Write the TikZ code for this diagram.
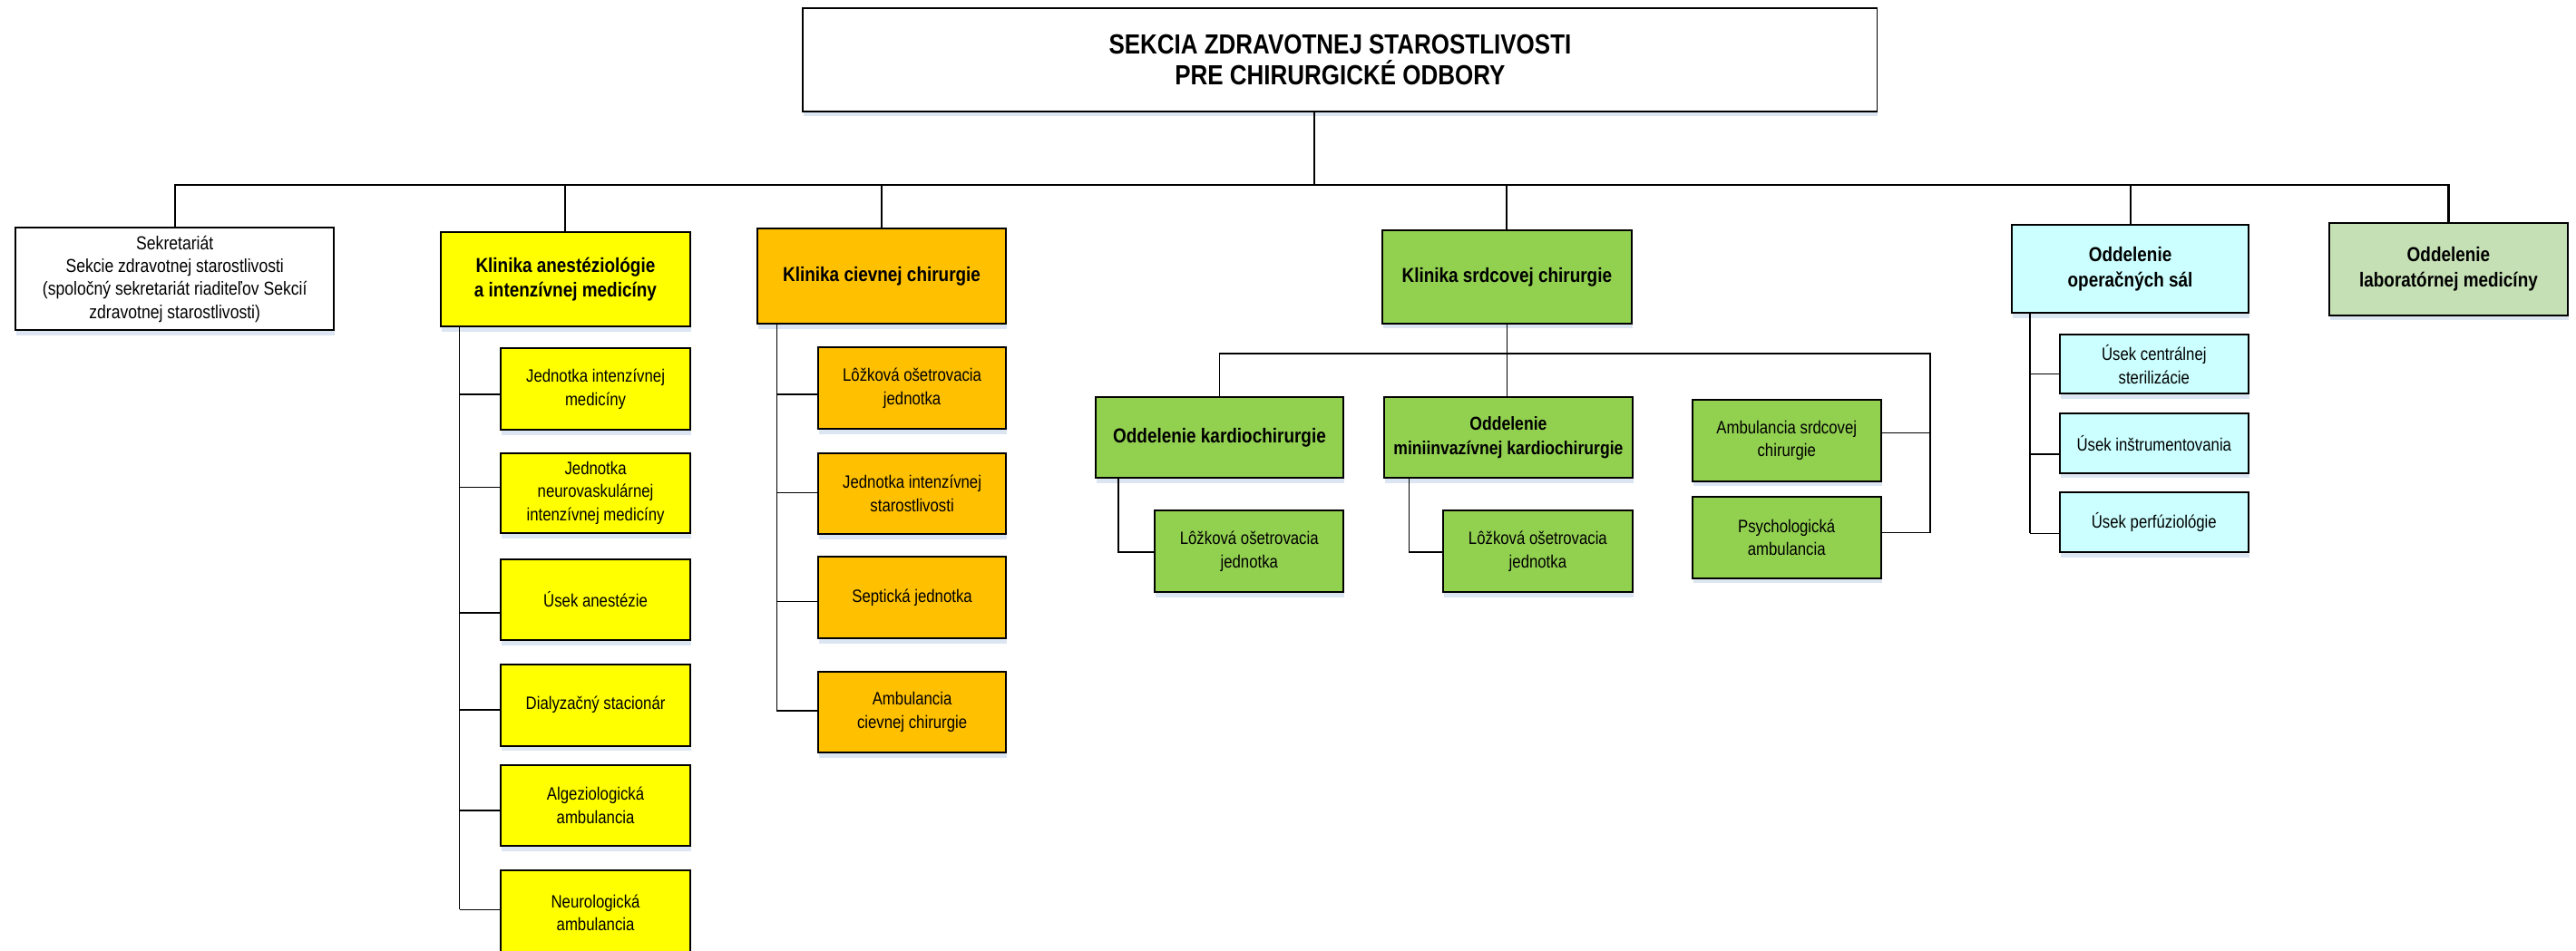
\documentclass[tikz,border=0pt]{standalone}
\usepackage{fontspec}
\setmainfont{Liberation Sans}[FakeStretch=0.85]
\usetikzlibrary{shadows}

\definecolor{cyel}{HTML}{FFFF00}
\definecolor{corg}{HTML}{FFC000}
\definecolor{cgrn}{HTML}{92D050}
\definecolor{ccyn}{HTML}{CCFFFF}
\definecolor{clab}{HTML}{C5E0B4}
\definecolor{cshd}{HTML}{DCE6F2}

\newcommand\orgunit[7]{%
  \pgfmathsetmacro\myboxw{(#4-#2)*0.02}%
  \pgfmathsetmacro\myboxh{(#5-#3)*0.02}%
  \node[#6, minimum width=\myboxw cm, minimum height=\myboxh cm] (#1) at ({(#2+#4)/2},{(#3+#5)/2}) {#7};%
}

\tikzset{
  orgbox/.style={draw=black, line width=0.6pt, inner sep=0pt, align=center,
    general shadow={fill=cshd, shadow yshift=-1.8pt, shadow xshift=0.3pt}},
  titlebox/.style={orgbox, fill=white, font=\fontsize{9.6}{10.8}\selectfont\bfseries},
  headbox/.style={orgbox, font=\fontsize{7}{8.6}\selectfont\bfseries},
  subbox/.style={orgbox, font=\fontsize{6.2}{8.1}\selectfont},
  sekbox/.style={orgbox, fill=white, font=\fontsize{6.5}{8}\selectfont},
  busline/.style={draw=black, line width=0.65pt},
  conline/.style={draw=black, line width=0.5pt},
}

\begin{document}
\begin{tikzpicture}[x=0.02cm, y=-0.02cm]
\useasboundingbox[fill=white] (0,0) rectangle (1568,579);

% top
\orgunit{top}{488.8}{5.2}{1142.6}{67.7}{titlebox}{SEKCIA ZDRAVOTNEJ STAROSTLIVOSTI\\PRE CHIRURGICKÉ ODBORY}

% level 1
\orgunit{sek}{9.4}{138.6}{203.4}{201.2}{sekbox}{Sekretariát\\Sekcie zdravotnej starostlivosti\\(spoločný sekretariát riaditeľov Sekcií\\zdravotnej starostlivosti)}
\orgunit{ka}{268.4}{141.3}{420}{198.8}{headbox, fill=cyel}{Klinika anestéziológie\\a intenzívnej medicíny}
\orgunit{kc}{461}{139.2}{612.4}{197}{headbox, fill=corg}{Klinika cievnej chirurgie}
\orgunit{ks}{841.5}{140.4}{993}{196.9}{headbox, fill=cgrn}{Klinika srdcovej chirurgie}
\orgunit{kos}{1224.6}{137.1}{1368.7}{190.5}{headbox, fill=ccyn}{Oddelenie\\operačných sál}
\orgunit{klab}{1418}{135.6}{1562.8}{192}{headbox, fill=clab}{Oddelenie\\laboratórnej medicíny}

% anesteziologia
\orgunit{a1}{305}{212.1}{420}{261.7}{subbox, fill=cyel}{Jednotka intenzívnej\\medicíny}
\orgunit{a2}{305}{275.8}{420}{324.6}{subbox, fill=cyel}{Jednotka\\neurovaskulárnej\\intenzívnej medicíny}
\orgunit{a3}{305}{340.4}{420}{390}{subbox, fill=cyel}{Úsek anestézie}
\orgunit{a4}{305}{404.6}{420}{454.2}{subbox, fill=cyel}{Dialyzačný stacionár}
\orgunit{a5}{305}{465.9}{420}{515.3}{subbox, fill=cyel}{Algeziologická\\ambulancia}
\orgunit{a6}{305}{529.8}{420}{582}{subbox, fill=cyel}{Neurologická\\ambulancia}

% cievna
\orgunit{c1}{498}{211.4}{612.4}{261.3}{subbox, fill=corg}{Lôžková ošetrovacia\\jednotka}
\orgunit{c2}{498}{275.8}{612.4}{325.2}{subbox, fill=corg}{Jednotka intenzívnej\\starostlivosti}
\orgunit{c3}{498}{339.2}{612.4}{388.9}{subbox, fill=corg}{Septická jednotka}
\orgunit{c4}{498}{409}{612.4}{458.4}{subbox, fill=corg}{Ambulancia\\cievnej chirurgie}

% srdcova
\orgunit{okc}{666.7}{241.6}{817.9}{291.1}{headbox, fill=cgrn}{Oddelenie kardiochirurgie}
\orgunit{omk}{842.5}{241.6}{993.7}{291.1}{headbox, fill=cgrn, font=\fontsize{6.5}{8.6}\selectfont\bfseries}{Oddelenie\\miniinvazívnej kardiochirurgie}
\orgunit{ams}{1030}{243.5}{1145}{293}{subbox, fill=cgrn}{Ambulancia srdcovej\\chirurgie}
\orgunit{psy}{1030}{302.7}{1145}{352}{subbox, fill=cgrn}{Psychologická\\ambulancia}
\orgunit{l1}{702.9}{311}{817.9}{360.4}{subbox, fill=cgrn}{Lôžková ošetrovacia\\jednotka}
\orgunit{l2}{878.4}{311}{993.7}{360.4}{subbox, fill=cgrn}{Lôžková ošetrovacia\\jednotka}

% operacne saly
\orgunit{o1}{1253.6}{203.7}{1368.7}{239.8}{subbox, fill=ccyn}{Úsek centrálnej\\sterilizácie}
\orgunit{o2}{1253.6}{251.8}{1368.7}{288}{subbox, fill=ccyn}{Úsek inštrumentovania}
\orgunit{o3}{1253.6}{300}{1368.7}{336.4}{subbox, fill=ccyn}{Úsek perfúziológie}

% ---- connectors ----
\coordinate (bus) at (800,112.7);
\draw[busline] (top.south -| bus) -- (bus);
\draw[busline] (sek.north) |- (bus) -| (klab.north);
\foreach \n in {ka,kc,ks,kos} \draw[busline] (\n.north) -- (\n.north |- bus);

% anest trunk
\coordinate (a1c) at (279.7,240);
\coordinate (a2c) at (279.7,296.8);
\coordinate (a3c) at (279.7,373.1);
\coordinate (a4c) at (279.7,432.4);
\coordinate (a5c) at (279.7,493.5);
\coordinate (a6c) at (279.7,554);
\draw[conline] (ka.south -| a6c) -- (a6c);
\foreach \n in {a1,a2,a3,a4,a5,a6} \draw[conline] (\n c) -- (\n c -| \n.west);

% cievna trunk
\coordinate (c1c) at (472.8,240);
\coordinate (c2c) at (472.8,300);
\coordinate (c3c) at (472.8,366.3);
\coordinate (c4c) at (472.8,432.9);
\draw[conline] (kc.south -| c4c) -- (c4c);
\foreach \n in {c1,c2,c3,c4} \draw[conline] (\n c) -- (\n c -| \n.west);

% srdcova
\coordinate (hR) at (1175,215.3);
\coordinate (amsc) at (1175,263.7);
\coordinate (psyc) at (1175,324.3);
\draw[conline] (ks.south) -- (ks.south |- omk.north);
\draw[conline] (okc.north) |- (hR) -- (psyc) -- (psyc -| psy.east);
\draw[conline] (amsc) -- (amsc -| ams.east);
\coordinate (l1c) at (680.6,336.3);
\coordinate (l2c) at (857.7,336.3);
\draw[conline] (okc.south -| l1c) -- (l1c) -- (l1c -| l1.west);
\draw[conline] (omk.south -| l2c) -- (l2c) -- (l2c -| l2.west);

% operacne saly trunk
\coordinate (o1c) at (1235.5,227.8);
\coordinate (o2c) at (1235.5,276.6);
\coordinate (o3c) at (1235.5,324.8);
\draw[conline] (kos.south -| o3c) -- (o3c);
\foreach \n in {o1,o2,o3} \draw[conline] (\n c) -- (\n c -| \n.west);
\end{tikzpicture}
\end{document}
